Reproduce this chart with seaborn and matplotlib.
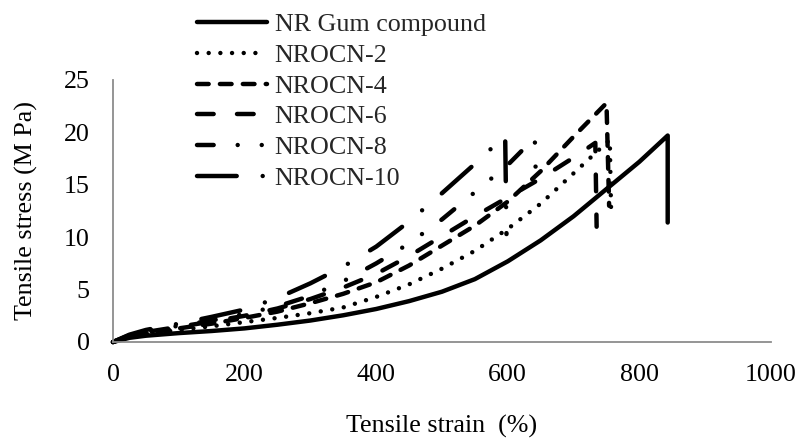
import matplotlib
matplotlib.use("Agg")
import matplotlib.pyplot as plt
import seaborn as sns

# ---- data ----
gum_x = [0, 25, 50, 100, 150, 200, 250, 300, 350, 400, 450, 500, 550, 600, 650, 700, 750, 800, 843, 843]
gum_y = [0, 0.4, 0.6, 0.85, 1.05, 1.3, 1.65, 2.05, 2.55, 3.15, 3.9, 4.8, 6.0, 7.7, 9.7, 12.0, 14.6, 17.2, 19.7, 11.4]

n2_x = [0, 25, 50, 100, 150, 200, 250, 300, 350, 400, 450, 500, 550, 600, 650, 700, 755, 757]
n2_y = [0, 0.5, 0.75, 1.15, 1.5, 1.9, 2.3, 2.75, 3.3, 4.3, 5.5, 7.0, 8.7, 10.8, 13.2, 16.1, 19.3, 12.5]

n4_x = [0, 25, 50, 100, 150, 200, 250, 300, 350, 400, 450, 500, 550, 600, 650, 700, 750, 754]
n4_y = [0, 0.55, 0.85, 1.3, 1.75, 2.3, 2.9, 3.7, 4.6, 5.7, 7.3, 9.2, 11.1, 13.4, 16.3, 19.6, 22.8, 13.0]

n6_x = [0, 25, 50, 100, 150, 200, 250, 300, 350, 400, 450, 500, 550, 600, 650, 700, 733, 735]
n6_y = [0, 0.6, 0.95, 1.45, 1.95, 2.5, 3.2, 4.1, 5.2, 6.5, 8.2, 10.1, 12.0, 13.8, 15.6, 17.6, 19.0, 11.0]

n8_x = [0, 25, 50, 100, 150, 200, 250, 300, 350, 400, 450, 500, 550, 600, 641, 643]
n8_y = [0, 0.65, 1.0, 1.55, 2.05, 2.7, 3.4, 4.4, 5.8, 7.5, 9.4, 11.7, 14.3, 16.9, 19.5, 14.8]

n10_x = [0, 25, 50, 100, 150, 200, 250, 300, 350, 400, 450, 500, 550, 596, 598]
n10_y = [0, 0.7, 1.15, 1.75, 2.4, 3.1, 4.2, 5.6, 7.2, 9.1, 11.5, 14.2, 17.0, 19.7, 10.3]

series_labels = ["NR Gum compound", "NROCN-2", "NROCN-4", "NROCN-6", "NROCN-8", "NROCN-10"]
x_ticks = [0, 200, 400, 600, 800, 1000]
y_ticks = [0, 5, 10, 15, 20, 25]

# ---- styling ----
sns.set_theme(style="white")
plt.rcParams["font.family"] = ["Liberation Serif", "DejaVu Serif"]
plt.rcParams["lines.scale_dashes"] = False

FS = 18.7
LW = 3.2
d = 0.01
styles = [
    "-",
    (0, (d, 8.4)),
    (0, (8.4, 8.1)),
    (0, (12.0, 16.8)),
    (0, (12.0, 17.3, d, 17.3, d, 17.3)),
    (0, (28.6, 18.7, d, 18.7)),
]

fig = plt.figure(figsize=(7.98, 4.41), dpi=100)
ax = fig.add_axes([113 / 798, 1 - 342 / 441, (771 - 113) / 798, (342 - 80) / 441])

data = [(gum_x, gum_y), (n2_x, n2_y), (n4_x, n4_y), (n6_x, n6_y), (n8_x, n8_y), (n10_x, n10_y)]
for (xs, ys), lab, ls in zip(data, series_labels, styles):
    sns.lineplot(x=xs, y=ys, ax=ax, sort=False, estimator=None, color="black",
                 linewidth=LW, label=lab, legend=False)
    ln = ax.lines[-1]
    ln.set_linestyle(ls)
    ln.set_dash_capstyle("round")
    ln.set_solid_capstyle("round")
    ln.set_solid_joinstyle("round")
    ln.set_dash_joinstyle("round")
    ln.set_clip_on(False)

ax.set_xlim(0, 1000)
ax.set_ylim(0, 25)
ax.set_xticks(x_ticks)
ax.set_yticks(y_ticks)
ax.set_xticklabels([str(v) for v in x_ticks])
ax.set_yticklabels([str(v) for v in y_ticks])

axis_gray = "#8c8c8c"
for s in ["top", "right"]:
    ax.spines[s].set_visible(False)
for s in ["left", "bottom"]:
    ax.spines[s].set_color(axis_gray)
    ax.spines[s].set_linewidth(1.3)
ax.tick_params(axis="both", direction="out", length=5.8, width=1.2, color=axis_gray,
               labelsize=FS, labelcolor="black")
ax.tick_params(axis="x", pad=10)
ax.tick_params(axis="y", pad=11)
ax.grid(False)

ax.set_xlabel("Tensile strain  (%)", fontsize=FS, color="black", labelpad=21)
ax.set_ylabel("Tensile stress (M Pa)", fontsize=FS, color="black", labelpad=18.5)

handles = ax.lines[:6]
leg = ax.legend(handles, series_labels, loc="upper left",
                bbox_to_anchor=(197 / 798, 1 - 13 / 441), bbox_transform=fig.transFigure,
                frameon=False, fontsize=FS, handlelength=2.69, handletextpad=0.3,
                labelspacing=0.29, borderpad=0, borderaxespad=0)
for h in leg.get_lines():
    h.set_linewidth(LW)
    h.set_dash_capstyle("round")
    h.set_solid_capstyle("round")

fig.savefig("out.png", dpi=100)
